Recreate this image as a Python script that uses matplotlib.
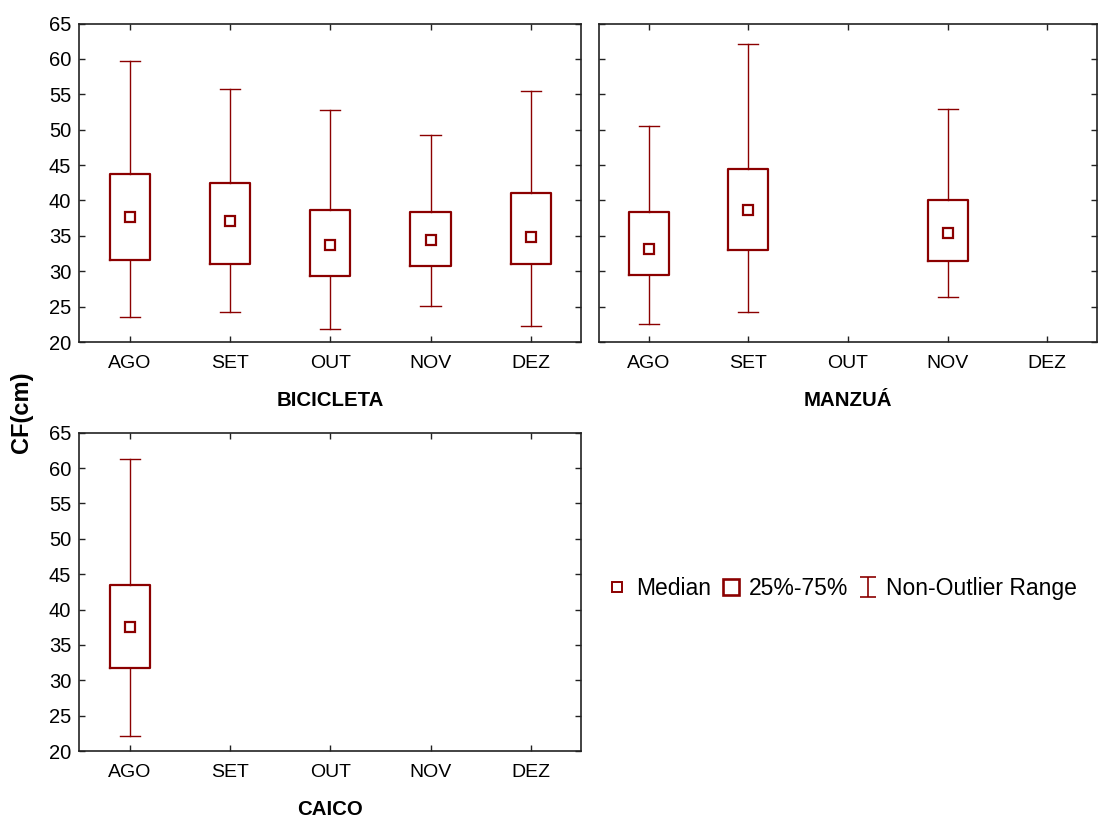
import matplotlib
matplotlib.use("Agg")
import matplotlib.pyplot as plt
from matplotlib.lines import Line2D
from matplotlib.path import Path

plt.rcParams['font.family'] = ['Liberation Sans', 'DejaVu Sans']

months = ["AGO", "SET", "OUT", "NOV", "DEZ"]

# BICICLETA: per month (whislo, q1, median, q3, whishi)
bici_lo = [23.6, 24.3, 21.9, 25.1, 22.2]
bici_q1 = [31.6, 31.0, 29.35, 30.8, 31.0]
bici_med = [37.7, 37.05, 33.75, 34.4, 34.9]
bici_q3 = [43.7, 42.4, 38.65, 38.4, 41.1]
bici_hi = [59.75, 55.75, 52.85, 49.3, 55.45]

manz_months = ["AGO", "SET", "NOV"]
manz_lo = [22.6, 24.3, 26.4]
manz_q1 = [29.45, 33.0, 31.5]
manz_med = [33.2, 38.7, 35.45]
manz_q3 = [38.3, 44.5, 40.0]
manz_hi = [50.55, 62.05, 52.95]

caico_months = ["AGO"]
caico_lo = [22.1]
caico_q1 = [31.75]
caico_med = [37.55]
caico_q3 = [43.5]
caico_hi = [61.3]

yticks = [20, 25, 30, 35, 40, 45, 50, 55, 60, 65]

RED = '#8b0000'


def make_stats(mlist, lo, q1, med, q3, hi):
    stats = []
    for i in range(len(mlist)):
        stats.append(dict(whislo=lo[i], q1=q1[i], med=med[i], mean=med[i],
                          q3=q3[i], whishi=hi[i], fliers=[], label=mlist[i]))
    return stats


def draw(ax, mlist, lo, q1, med, q3, hi, xlabel, showy=True):
    stats = make_stats(mlist, lo, q1, med, q3, hi)
    pos = [months.index(m) + 1 for m in mlist]
    ax.bxp(stats, positions=pos, widths=0.4, capwidths=0.2, showmeans=True,
           showfliers=False, manage_ticks=False,
           boxprops=dict(color=RED, linewidth=1.6),
           whiskerprops=dict(color=RED, linewidth=1.0),
           capprops=dict(color=RED, linewidth=1.0),
           medianprops=dict(visible=False),
           meanprops=dict(marker='s', markersize=7.5, markerfacecolor='none',
                          markeredgecolor=RED, markeredgewidth=1.6))
    ax.set_xlim(0.5, 5.5)
    ax.set_ylim(20, 65)
    ax.set_xticks(range(1, 6))
    ax.set_xticklabels(months)
    ax.set_yticks(yticks)
    if not showy:
        ax.set_yticklabels([])
    ax.tick_params(direction='in', top=True, right=True, length=4,
                   width=1, colors='#222222', labelcolor='black')
    ax.tick_params(axis='x', pad=9, labelsize=14)
    ax.tick_params(axis='y', pad=6, labelsize=14.5)
    for s in ax.spines.values():
        s.set_linewidth(1.2)
        s.set_color('#222222')
    ax.set_xlabel(xlabel, fontsize=14.7, fontweight='bold', labelpad=14)


fig = plt.figure(figsize=(10.98, 8.19), dpi=100)
ax1 = fig.add_axes([0.0724, 0.5824, 0.4567, 0.3889])
ax2 = fig.add_axes([0.5455, 0.5824, 0.4536, 0.3889])
ax3 = fig.add_axes([0.0724, 0.0830, 0.4567, 0.3887])

draw(ax1, months, bici_lo, bici_q1, bici_med, bici_q3, bici_hi, "BICICLETA")
draw(ax2, manz_months, manz_lo, manz_q1, manz_med, manz_q3, manz_hi, "MANZUÁ", showy=False)
draw(ax3, caico_months, caico_lo, caico_q1, caico_med, caico_q3, caico_hi, "CAICO")

fig.text(0.020, 0.497, "CF(cm)", rotation=90, fontsize=17, fontweight='bold',
         ha='center', va='center')

ibeam = Path([(-0.81, 1), (0.81, 1), (0, 1), (0, -1), (-0.81, -1), (0.81, -1)],
             [Path.MOVETO, Path.LINETO, Path.MOVETO, Path.LINETO, Path.MOVETO, Path.LINETO])
handles = [
    Line2D([], [], linestyle='none', marker='s', markersize=7.9, markerfacecolor='none',
           markeredgecolor=RED, markeredgewidth=1.4),
    Line2D([], [], linestyle='none', marker='s', markersize=12.2, markerfacecolor='none',
           markeredgecolor=RED, markeredgewidth=1.9),
    Line2D([], [], linestyle='none', marker=ibeam, markersize=15, markerfacecolor='none',
           markeredgecolor=RED, markeredgewidth=1.2),
]
labels = ["Median", "25%-75%", "Non-Outlier Range"]
fig.legend(handles, labels, loc='center left', bbox_to_anchor=(0.554, 0.282), ncol=3,
           frameon=False, fontsize=16.5, handlelength=0.8, handletextpad=0.41,
           columnspacing=0.45, borderaxespad=0, borderpad=0)

fig.savefig("out.png", dpi=100)
